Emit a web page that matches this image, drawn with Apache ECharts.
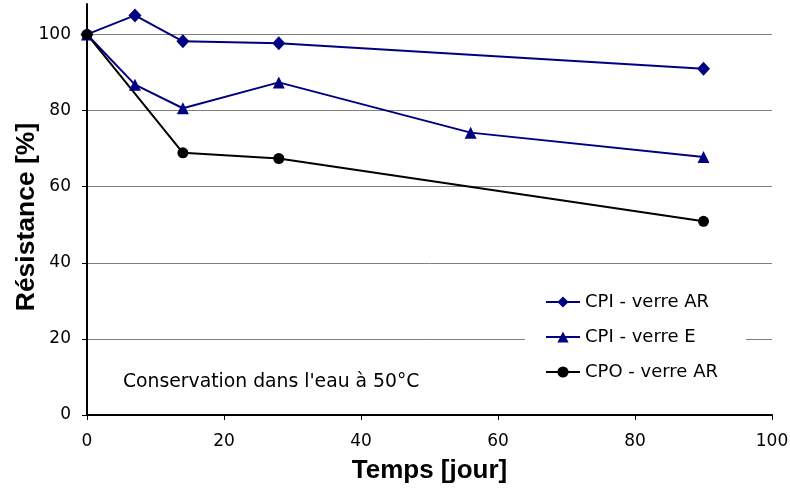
<!DOCTYPE html>
<html>
<head>
<meta charset="utf-8">
<script src="https://cdn.jsdelivr.net/npm/echarts@6/dist/echarts.min.js"></script>
<style>html,body{margin:0;padding:0;background:#fff;}#c{width:790px;height:491px;}</style>
</head>
<body>
<div id="c"></div>
<script>
const cpiArX = [0, 7, 14, 28, 90];
const cpiArY = [100, 105, 98.2, 97.7, 91];
const cpiEX = [0, 7, 14, 28, 56, 90];
const cpiEY = [100, 86.8, 80.6, 87.4, 74.2, 67.8];
const cpoArX = [0, 14, 28, 90];
const cpoArY = [100, 68.9, 67.4, 50.9];
const seriesNames = ['CPI - verre AR', 'CPI - verre E', 'CPO - verre AR'];
const xTitle = 'Temps [jour]';
const yTitle = 'Résistance [%]';
const note = "Conservation dans l'eau à 50°C";

function pairs(xs, ys) { return xs.map((x, i) => [x, ys[i]]); }

const chart = echarts.init(document.getElementById('c'));
const navy = '#000080';
chart.setOption({
  animation: false,
  grid: { left: 87, right: 18, top: 4, bottom: 76, containLabel: false, outerBoundsMode: 'none' },
  xAxis: {
    type: 'value', min: 0, max: 100, interval: 20,
    name: xTitle, nameLocation: 'middle', nameGap: 43,
    nameTextStyle: { fontFamily: 'Liberation Sans', fontWeight: 'bold', fontSize: 26, color: '#000' },
    axisLine: { show: true, onZero: false, lineStyle: { color: '#000', width: 2 } },
    axisTick: { show: true, length: 5, lineStyle: { color: '#000', width: 1 } },
    axisLabel: { margin: 18, fontFamily: 'DejaVu Sans', fontSize: 17, color: '#000' },
    splitLine: { show: false }
  },
  yAxis: {
    type: 'value', min: 0, max: 108, interval: 20,
    axisLine: { show: true, lineStyle: { color: '#000', width: 2 } },
    axisTick: { show: true, length: 5, lineStyle: { color: '#000', width: 1 } },
    axisLabel: { margin: 16, fontFamily: 'DejaVu Sans', fontSize: 17, color: '#000', showMaxLabel: false,
      formatter: v => (v % 20 === 0 ? String(v) : '') },
    splitLine: { show: true, showMaxLine: false, lineStyle: { color: '#808080', width: 1 } }
  },
  legend: {
    orient: 'vertical', left: 525, top: 283,
    padding: [10, 28, 10, 20], itemGap: 17,
    itemWidth: 34, itemHeight: 14,
    backgroundColor: '#fff',
    textStyle: { fontFamily: 'DejaVu Sans', fontSize: 18, color: '#000' },
    data: seriesNames
  },
  graphic: [{
    type: 'text', left: 123, top: 373,
    style: { text: note, fontFamily: 'DejaVu Sans', fontSize: 18.8, fill: '#000' }
  }, {
    type: 'text', x: 27, y: 217, rotation: Math.PI / 2,
    style: { text: yTitle, fontFamily: 'Liberation Sans', fontWeight: 'bold', fontSize: 26.5, fill: '#000',
      align: 'center', verticalAlign: 'middle' }
  }],
  series: [
    { name: seriesNames[0], type: 'line', data: pairs(cpiArX, cpiArY), symbol: 'diamond', symbolSize: [13, 14],
      lineStyle: { color: navy, width: 2 }, itemStyle: { color: navy } },
    { name: seriesNames[1], type: 'line', data: pairs(cpiEX, cpiEY), symbol: 'triangle', symbolSize: 12,
      lineStyle: { color: navy, width: 2 }, itemStyle: { color: navy } },
    { name: seriesNames[2], type: 'line', data: pairs(cpoArX, cpoArY), symbol: 'circle', symbolSize: 11,
      lineStyle: { color: '#000', width: 2 }, itemStyle: { color: '#000' } }
  ]
});
</script>
</body>
</html>
